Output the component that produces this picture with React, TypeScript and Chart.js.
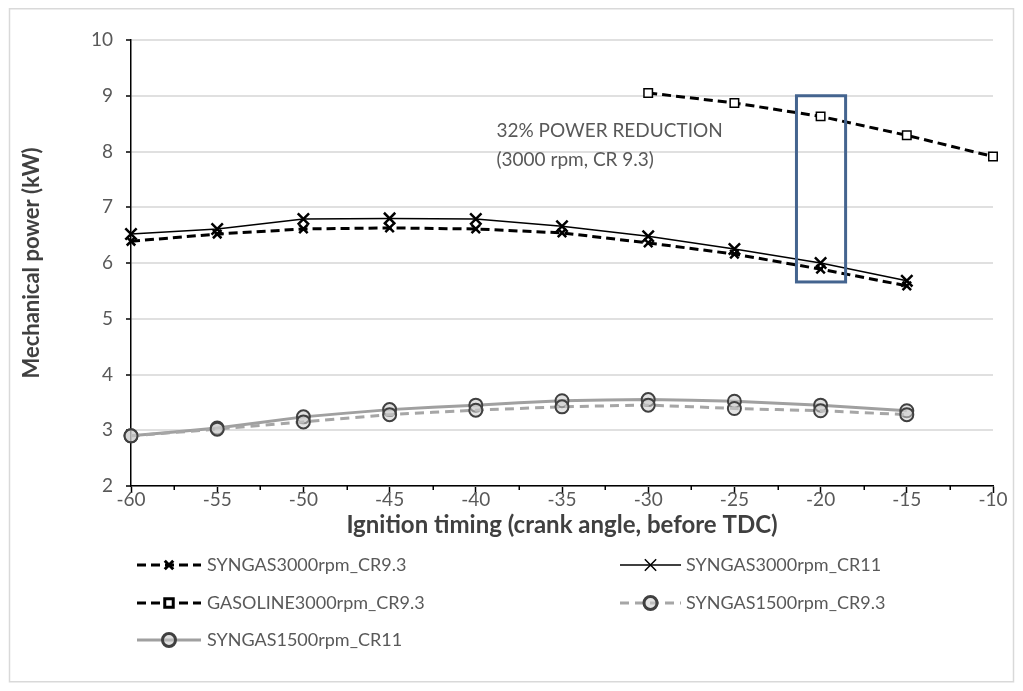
import { useEffect, useRef } from 'react';
import { Chart, registerables } from 'chart.js';
import { drawPoint } from 'chart.js/helpers';

Chart.register(...registerables);

// Ignition timing (crank angle before TDC)
const timing = [-60, -55, -50, -45, -40, -35, -30, -25, -20, -15, -10];

// Mechanical power (kW) per series; null where no measurement exists
const syngas3000Cr93 = [6.39, 6.52, 6.61, 6.63, 6.61, 6.54, 6.36, 6.16, 5.89, 5.59, null];
const syngas3000Cr11 = [6.52, 6.61, 6.79, 6.8, 6.79, 6.66, 6.48, 6.25, 6.0, 5.68, null];
const gasoline3000Cr93 = [null, null, null, null, null, null, 9.05, 8.87, 8.63, 8.29, 7.91];
const syngas1500Cr93 = [2.9, 3.02, 3.15, 3.28, 3.36, 3.42, 3.45, 3.39, 3.35, 3.28, null];
const syngas1500Cr11 = [2.9, 3.04, 3.24, 3.37, 3.45, 3.53, 3.55, 3.52, 3.45, 3.35, null];

const seriesLabels = [
  'SYNGAS3000rpm_CR9.3',
  'SYNGAS3000rpm_CR11',
  'GASOLINE3000rpm_CR9.3',
  'SYNGAS1500rpm_CR9.3',
  'SYNGAS1500rpm_CR11',
];

// Highlighted comparison window and its note
const highlightX = [-21.4, -18.55];
const highlightY = [5.66, 9.0];
const noteLines = ['32% POWER REDUCTION', '(3000 rpm, CR 9.3)'];
const notePos = { x: -38.8, y: [8.37, 7.85] };

const FONT = 'Lato, "Open Sans", sans-serif';
const TEXT = '#595959';

const toPoints = (vals: (number | null)[]) =>
  timing
    .map((t, i) => ({ x: t, y: vals[i] }))
    .filter((p) => p.y !== null) as { x: number; y: number }[];

const framePlugin = {
  id: 'frame',
  beforeDraw(chart: any) {
    const { ctx, width, height } = chart;
    ctx.save();
    ctx.fillStyle = '#ffffff';
    ctx.fillRect(0, 0, width, height);
    ctx.strokeStyle = '#d9d9d9';
    ctx.lineWidth = 1.5;
    ctx.strokeRect(1.5, 0.75, width - 3, height - 2);
    ctx.restore();
  },
};

// Short minor tick marks halfway between the labelled x ticks
const minorTickPlugin = {
  id: 'minorTicks',
  afterDraw(chart: any) {
    const { ctx, scales } = chart;
    const xs = scales.x;
    ctx.save();
    ctx.strokeStyle = '#000000';
    ctx.lineWidth = 1.5;
    xs.ticks.forEach((t: any) => {
      if (t.value % 5 === 0) return;
      const px = Math.round(xs.getPixelForValue(t.value)) + 0.25;
      ctx.beginPath();
      ctx.moveTo(px, xs.top);
      ctx.lineTo(px, xs.top + 4);
      ctx.stroke();
    });
    ctx.restore();
  },
};

const highlightPlugin = {
  id: 'highlight',
  afterDatasetsDraw(chart: any) {
    const { ctx, scales } = chart;
    const xs = scales.x;
    const ys = scales.y;
    const x0 = xs.getPixelForValue(highlightX[0]);
    const x1 = xs.getPixelForValue(highlightX[1]);
    const y0 = ys.getPixelForValue(highlightY[1]);
    const y1 = ys.getPixelForValue(highlightY[0]);
    ctx.save();
    ctx.strokeStyle = '#44648f';
    ctx.lineWidth = 3;
    ctx.strokeRect(x0, y0, x1 - x0, y1 - y0);
    ctx.fillStyle = TEXT;
    ctx.font = `19px ${FONT}`;
    ctx.textBaseline = 'middle';
    ctx.textAlign = 'left';
    const nx = xs.getPixelForValue(notePos.x);
    noteLines.forEach((line, i) => {
      ctx.fillText(line, nx, ys.getPixelForValue(notePos.y[i]));
    });
    ctx.restore();
  },
};

const gridLegendPlugin = {
  id: 'gridLegend',
  afterDraw(chart: any) {
    const { ctx } = chart;
    const cols = [
      { x0: 129, x1: 193, tx: 199 },
      { x0: 612, x1: 673, tx: 678 },
    ];
    const rows = [557, 595, 632];
    chart.data.datasets.forEach((ds: any, i: number) => {
      const col = cols[i % 2];
      const y = rows[Math.floor(i / 2)];
      ctx.save();
      ctx.strokeStyle = ds.borderColor;
      ctx.lineWidth = ds.borderWidth;
      ctx.setLineDash(ds.borderDash || []);
      ctx.beginPath();
      ctx.moveTo(col.x0, y);
      ctx.lineTo(col.x1, y);
      ctx.stroke();
      ctx.setLineDash([]);
      ctx.fillStyle = ds.pointBackgroundColor;
      ctx.strokeStyle = ds.pointBorderColor;
      drawPoint(
        ctx,
        {
          pointStyle: ds.pointStyle,
          radius: ds.pointRadius,
          borderWidth: ds.pointBorderWidth,
          rotation: 0,
        } as any,
        (col.x0 + col.x1) / 2,
        y
      );
      ctx.fillStyle = TEXT;
      ctx.font = `18px ${FONT}`;
      ctx.textBaseline = 'middle';
      ctx.textAlign = 'left';
      ctx.fillText(ds.label, col.tx, y);
      ctx.restore();
    });
  },
};

export default function App() {
  const canvasRef = useRef<HTMLCanvasElement | null>(null);

  useEffect(() => {
    if (!canvasRef.current) return;
    const chart = new Chart(canvasRef.current, {
      type: 'line',
      data: {
        datasets: [
          {
            label: seriesLabels[0],
            data: toPoints(syngas3000Cr93),
            borderColor: '#000000',
            borderWidth: 3,
            borderDash: [9, 5],
            pointStyle: 'crossRot',
            pointRadius: 6,
            pointBorderWidth: 2.5,
            pointBorderColor: '#000000',
            pointBackgroundColor: '#000000',
          },
          {
            label: seriesLabels[1],
            data: toPoints(syngas3000Cr11),
            borderColor: '#000000',
            borderWidth: 1.5,
            pointStyle: 'crossRot',
            pointRadius: 8,
            pointBorderWidth: 2.5,
            pointBorderColor: '#000000',
            pointBackgroundColor: '#000000',
          },
          {
            label: seriesLabels[2],
            data: toPoints(gasoline3000Cr93),
            borderColor: '#000000',
            borderWidth: 3,
            borderDash: [9, 5],
            pointStyle: 'rect',
            pointRadius: 6,
            pointBorderWidth: 1.5,
            pointBorderColor: '#000000',
            pointBackgroundColor: '#ffffff',
          },
          {
            label: seriesLabels[3],
            data: toPoints(syngas1500Cr93),
            borderColor: '#a6a6a6',
            borderWidth: 3,
            borderDash: [9, 6],
            pointStyle: 'circle',
            pointRadius: 6.5,
            pointBorderWidth: 2,
            pointBorderColor: '#404040',
            pointBackgroundColor: 'rgba(205,205,205,0.55)',
            tension: 0.1,
          },
          {
            label: seriesLabels[4],
            data: toPoints(syngas1500Cr11),
            borderColor: '#a0a0a0',
            borderWidth: 3,
            pointStyle: 'circle',
            pointRadius: 6.5,
            pointBorderWidth: 2,
            pointBorderColor: '#404040',
            pointBackgroundColor: 'rgba(200,200,200,0.55)',
            tension: 0.1,
          },
        ],
      },
      options: {
        animation: false,
        responsive: true,
        maintainAspectRatio: false,
        clip: false,
        layout: { padding: { top: 32, right: 22, bottom: 143, left: 0 } },
        plugins: {
          legend: { display: false },
          tooltip: { enabled: false },
        },
        scales: {
          x: {
            type: 'linear',
            min: -60,
            max: -10,
            afterFit: (scale: any) => {
              scale.height = 54;
            },
            ticks: {
              stepSize: 2.5,
              autoSkip: false,
              maxRotation: 0,
              padding: -5,
              color: TEXT,
              font: { family: FONT, size: 19 },
              callback: (v: any) => (Number(v) % 5 === 0 ? String(v) : ''),
            },
            grid: {
              drawOnChartArea: false,
              tickColor: (c: any) =>
                c.tick && c.tick.value % 5 === 0 ? '#000000' : 'rgba(0,0,0,0)',
              tickLength: 7,
              tickWidth: 1.5,
            },
            border: { color: '#000000', width: 1.5 },
            title: {
              display: true,
              text: 'Ignition timing (crank angle, before TDC)',
              color: '#404040',
              font: { family: FONT, size: 24, weight: 'bold' },
              padding: { top: 0, bottom: 0 },
            },
          },
          y: {
            min: 2,
            max: 10,
            afterFit: (scale: any) => {
              scale.width = 123;
            },
            ticks: {
              stepSize: 1,
              padding: 13,
              color: TEXT,
              font: { family: FONT, size: 19 },
            },
            grid: {
              color: '#e0e0e0',
              lineWidth: 2,
              tickColor: '#000000',
              tickLength: 5,
              tickWidth: 1.5,
            },
            border: { color: '#000000', width: 1.5 },
            title: {
              display: true,
              text: 'Mechanical power (kW)',
              color: '#404040',
              font: { family: FONT, size: 22, weight: 'bold' },
              padding: { top: 11, bottom: 0 },
            },
          },
        },
      },
      plugins: [framePlugin, minorTickPlugin, highlightPlugin, gridLegendPlugin],
    } as any);
    return () => chart.destroy();
  }, []);

  return (
    <div style={{ position: 'relative', width: 1007, height: 675 }}>
      <canvas ref={canvasRef} />
    </div>
  );
}
